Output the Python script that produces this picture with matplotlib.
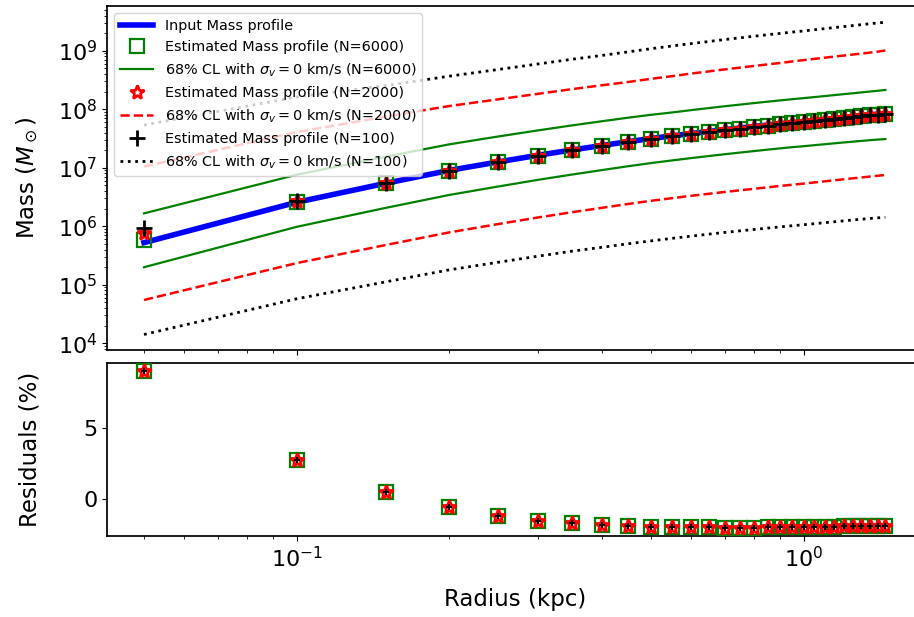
import matplotlib
matplotlib.use("Agg")
import matplotlib.pyplot as plt
import numpy as np

# ---------------- data ----------------
radius_kpc = [0.05, 0.10, 0.15, 0.20, 0.25, 0.30, 0.35, 0.40, 0.45, 0.50,
              0.55, 0.60, 0.65, 0.70, 0.75, 0.80, 0.85, 0.90, 0.95, 1.00,
              1.05, 1.10, 1.15, 1.20, 1.25, 1.30, 1.35, 1.40, 1.45]

# log10 of mass in solar masses
log_mass_input = [5.72, 6.41, 6.735, 6.955, 7.10, 7.215, 7.305, 7.38, 7.445, 7.50,
                  7.545, 7.585, 7.62, 7.652, 7.68, 7.706, 7.73, 7.752, 7.772, 7.79,
                  7.809, 7.827, 7.844, 7.86, 7.875, 7.89, 7.904, 7.917, 7.93]

log_mass_est_6000 = [5.757, 6.422, 6.737, 6.952, 7.095, 7.208, 7.297, 7.372, 7.437, 7.491,
                     7.536, 7.576, 7.611, 7.643, 7.671, 7.697, 7.721, 7.743, 7.763, 7.781,
                     7.80, 7.818, 7.835, 7.851, 7.866, 7.881, 7.895, 7.908, 7.922]
log_mass_est_2000 = [5.88, 6.425, 6.737, 6.952, 7.095, 7.208, 7.297, 7.372, 7.437, 7.491,
                     7.536, 7.576, 7.611, 7.643, 7.671, 7.697, 7.721, 7.743, 7.763, 7.781,
                     7.80, 7.818, 7.835, 7.851, 7.866, 7.881, 7.895, 7.908, 7.922]
log_mass_est_100 = [5.97, 6.44, 6.737, 6.952, 7.095, 7.208, 7.297, 7.372, 7.437, 7.491,
                    7.536, 7.576, 7.611, 7.643, 7.671, 7.697, 7.721, 7.743, 7.763, 7.781,
                    7.80, 7.818, 7.835, 7.851, 7.866, 7.881, 7.895, 7.908, 7.922]

log_cl_upper_6000 = [6.22, 6.88, 7.19, 7.40, 7.535, 7.64, 7.725, 7.795, 7.855, 7.905,
                     7.945, 7.985, 8.02, 8.052, 8.08, 8.106, 8.13, 8.152, 8.172, 8.19,
                     8.208, 8.225, 8.242, 8.258, 8.273, 8.288, 8.302, 8.316, 8.33]
log_cl_lower_6000 = [5.30, 5.99, 6.315, 6.535, 6.68, 6.795, 6.885, 6.96, 7.025, 7.08,
                     7.125, 7.165, 7.20, 7.232, 7.26, 7.286, 7.31, 7.332, 7.352, 7.368,
                     7.386, 7.402, 7.418, 7.432, 7.446, 7.459, 7.471, 7.482, 7.49]
log_cl_upper_2000 = [7.02, 7.61, 7.875, 8.055, 8.17, 8.265, 8.345, 8.41, 8.465, 8.52,
                     8.565, 8.61, 8.647, 8.682, 8.712, 8.741, 8.767, 8.792, 8.817, 8.84,
                     8.861, 8.881, 8.90, 8.918, 8.935, 8.952, 8.968, 8.984, 9.005]
log_cl_lower_2000 = [4.74, 5.37, 5.68, 5.895, 6.038, 6.152, 6.241, 6.315, 6.38, 6.435,
                     6.48, 6.52, 6.555, 6.587, 6.615, 6.641, 6.666, 6.689, 6.71, 6.729,
                     6.749, 6.768, 6.786, 6.803, 6.819, 6.834, 6.849, 6.863, 6.877]
log_cl_upper_100 = [7.73, 8.21, 8.405, 8.565, 8.68, 8.775, 8.855, 8.92, 8.98, 9.035,
                    9.081, 9.122, 9.158, 9.192, 9.221, 9.249, 9.274, 9.297, 9.319, 9.338,
                    9.359, 9.378, 9.396, 9.413, 9.43, 9.446, 9.461, 9.475, 9.487]
log_cl_lower_100 = [4.15, 4.76, 5.05, 5.255, 5.385, 5.49, 5.575, 5.64, 5.70, 5.75,
                    5.793, 5.831, 5.865, 5.895, 5.922, 5.946, 5.969, 5.99, 6.009, 6.026,
                    6.044, 6.061, 6.077, 6.092, 6.107, 6.12, 6.133, 6.144, 6.154]

# residuals in percent
residual_pct = [9.0, 2.7, 0.45, -0.6, -1.2, -1.55, -1.73, -1.85, -1.93, -1.97,
                -2.0, -2.02, -2.03, -2.04, -2.04, -2.04, -2.03, -2.02, -2.01, -2.0,
                -1.99, -1.98, -1.97, -1.96, -1.95, -1.94, -1.93, -1.92, -1.90]

# ---------------- figure ----------------
W, H = 914, 617
fig = plt.figure(figsize=(W / 100, H / 100), dpi=100)
plt.rcParams['axes.linewidth'] = 1.25

left = 107 / W
width = (922.4 - 107) / W
ax1 = fig.add_axes([left, 1 - 350 / H, width, 344 / H])
ax2 = fig.add_axes([left, 1 - 536 / H, width, 172.7 / H], sharex=ax1)

r = np.array(radius_kpc)


def p(a):
    return 10 ** np.array(a)


ax1.plot(r, p(log_mass_input), color='blue', lw=4, label='Input Mass profile', zorder=2)
ax1.plot(r, p(log_mass_est_6000), 's', ms=10.5, mfc='none', mec='green', mew=1.6,
         label='Estimated Mass profile (N=6000)', zorder=3)
ax1.plot(r, p(log_cl_upper_6000), '-', color='green', lw=1.6,
         label=r'68% CL with $\sigma_v = 0$ km/s (N=6000)')
ax1.plot(r, p(log_cl_lower_6000), '-', color='green', lw=1.6)
ax1.plot(r, p(log_mass_est_2000), '*', ms=10, mfc='none', mec='red', mew=2,
         label='Estimated Mass profile (N=2000)', zorder=4)
ax1.plot(r, p(log_cl_upper_2000), '--', color='red', lw=1.8,
         label=r'68% CL with $\sigma_v = 0$ km/s (N=2000)')
ax1.plot(r, p(log_cl_lower_2000), '--', color='red', lw=1.8)
ax1.plot(r, p(log_mass_est_100), '+', ms=12, color='black', mew=2,
         label='Estimated Mass profile (N=100)', zorder=5)
ax1.plot(r, p(log_cl_upper_100), ':', color='black', lw=2,
         label=r'68% CL with $\sigma_v = 0$ km/s (N=100)')
ax1.plot(r, p(log_cl_lower_100), ':', color='black', lw=2)

ax1.set_xscale('log')
ax1.set_yscale('log')
ax1.set_xlim(10 ** -1.374, 10 ** 0.2345)
ax1.set_ylim(10 ** 3.885, 10 ** 9.765)
ax1.set_ylabel(r'Mass ($M_\odot$)', fontsize=16.5)
ax1.tick_params(axis='both', labelsize=16)
plt.setp(ax1.get_xticklabels(which='both'), visible=False)
ax1.legend(loc='upper left', fontsize=10.4, handlelength=2.3)

ax2.plot(r, residual_pct, 's', ms=10.5, mfc='none', mec='green', mew=1.6, zorder=3)
ax2.plot(r, residual_pct, '*', ms=10, mfc='none', mec='red', mew=2, zorder=4)
ax2.plot(r, residual_pct, '+', ms=4, color='black', mew=1.5, zorder=5)
ax2.set_ylim(-2.63, 9.54)
ax2.set_yticks([0, 5])
ax2.set_ylabel('Residuals (%)', fontsize=16.5)
ax2.set_xlabel('Radius (kpc)', fontsize=16.5, labelpad=12)
ax2.tick_params(axis='both', labelsize=16)

for ax in (ax1, ax2):
    ax.yaxis.set_label_coords((41 - 107) / (922.4 - 107), 0.5)

fig.savefig('out.png', dpi=100)
